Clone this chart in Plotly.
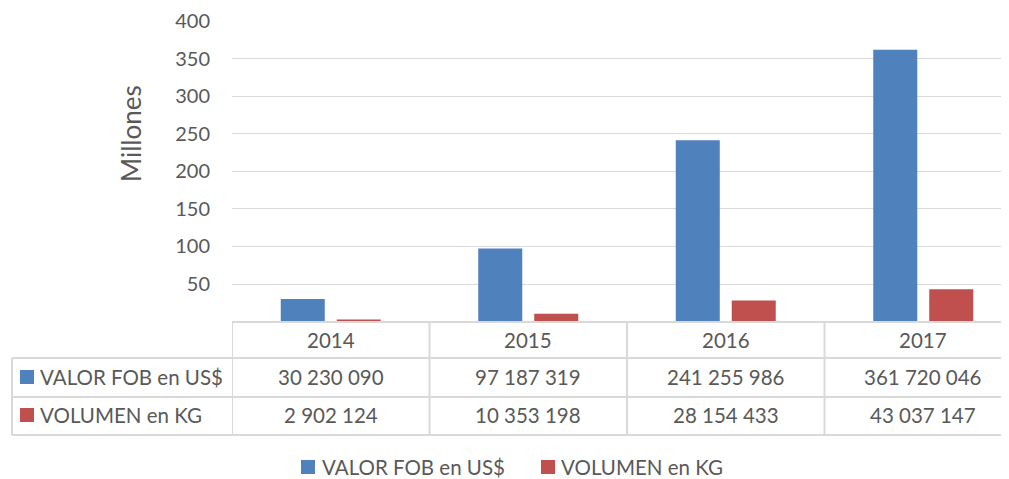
import plotly.graph_objects as go

years = ["2014", "2015", "2016", "2017"]
series_names = ["VALOR FOB en US$", "VOLUMEN en KG"]
valor_fob = [30230090, 97187319, 241255986, 361720046]
volumen_kg = [2902124, 10353198, 28154433, 43037147]
y_ticks = [50, 100, 150, 200, 250, 300, 350, 400]

colors = ["#4F81BD", "#C0504D"]
OFF = 8  # default page body margin
W, H = 1009 - OFF, 479 - OFF
FONT = "Lato"
TXT = "#595959"
GRID = "#D9D9D9"
FS = 20.5
CAT_W = 197.5  # pixels per category in the reference


def px(x):
    return (x - OFF) / W


def py(y):
    return 1 - (y - OFF) / H


fmt = lambda v: f"{v:,}".replace(",", " ")

fig = go.Figure()
for name, vals, c in zip(series_names, [valor_fob, volumen_kg], colors):
    fig.add_trace(go.Bar(x=years, y=[v / 1e6 for v in vals], name=name,
                         marker=dict(color=c, line=dict(width=0))))

x_left = 232
x_right = 1009
y0_pix = 321.6
fig.update_layout(
    width=W, height=H,
    margin=dict(l=0, r=0, t=0, b=0),
    paper_bgcolor="white", plot_bgcolor="white",
    barmode="group", bargap=0.433, bargroupgap=0.214,
    font=dict(family=FONT, color=TXT, size=FS),
    xaxis=dict(domain=[px(x_left), px(x_right)],
               range=[-0.5, -0.5 + (x_right - x_left) / CAT_W], showticklabels=False,
               showgrid=False, zeroline=False, showline=False, fixedrange=True),
    yaxis=dict(domain=[py(y0_pix), py(21)], range=[0, 400], tickvals=y_ticks,
               showgrid=True, gridcolor=GRID, gridwidth=1.3, zeroline=False,
               showline=False, ticks="", ticklen=0, automargin=False,
               ticklabelstandoff=21,
               tickfont=dict(size=20, color=TXT, family=FONT)),
    showlegend=False,
)

# y axis title
fig.add_annotation(text="Millones", x=px(131), y=py(134), xref="paper", yref="paper",
                   xanchor="center", yanchor="middle",
                   textangle=-90, showarrow=False, font=dict(size=26, color=TXT, family=FONT))

# table lines
line = dict(color=GRID, width=2)
row_y = [322, 358, 397, 435]
fig.add_shape(type="line", xref="paper", yref="paper", x0=px(232), x1=px(1008),
              y0=py(322), y1=py(322), line=line)
for yy in row_y[1:]:
    fig.add_shape(type="line", xref="paper", yref="paper", x0=px(12), x1=px(1008),
                  y0=py(yy), y1=py(yy), line=line)
for k in range(len(years)):
    fig.add_shape(type="line", xref="x", yref="paper", x0=k - 0.5, x1=k - 0.5,
                  y0=py(322), y1=py(435), line=line)
fig.add_shape(type="line", xref="paper", yref="paper", x0=px(1007.5), x1=px(1007.5),
              y0=py(322), y1=py(435), line=line)
fig.add_shape(type="line", xref="paper", yref="paper", x0=px(12), x1=px(12),
              y0=py(358), y1=py(435), line=line)

# header years
for i, yr in enumerate(years):
    fig.add_annotation(text=yr, x=i, xref="x", y=py(340), yref="paper",
                       xanchor="center", yanchor="middle",
                       showarrow=False, font=dict(size=FS, color=TXT, family=FONT))
# rows
row_centers = [377, 415]
for r, (name, vals, c) in enumerate(zip(series_names, [valor_fob, volumen_kg], colors)):
    yc = row_centers[r]
    fig.add_shape(type="rect", xref="paper", yref="paper", x0=px(20), x1=px(34),
                  y0=py(yc - 7), y1=py(yc + 7), fillcolor=c, line=dict(width=0))
    fig.add_annotation(text=name, x=px(38), y=py(yc), xref="paper", yref="paper",
                       xanchor="left", yanchor="middle", showarrow=False,
                       font=dict(size=FS, color=TXT, family=FONT))
    for i, v in enumerate(vals):
        fig.add_annotation(text=fmt(v), x=i, xref="x", y=py(yc), yref="paper",
                           xanchor="center", yanchor="middle",
                           showarrow=False, font=dict(size=FS, color=TXT, family=FONT))

# bottom legend
leg_y = 467
leg_items = [(301, 320), (541, 559)]
for (sx, tx), name, c in zip(leg_items, series_names, colors):
    fig.add_shape(type="rect", xref="paper", yref="paper", x0=px(sx), x1=px(sx + 14),
                  y0=py(leg_y - 7), y1=py(leg_y + 7), fillcolor=c, line=dict(width=0))
    fig.add_annotation(text=name, x=px(tx), y=py(leg_y), xref="paper", yref="paper",
                       xanchor="left", yanchor="middle", showarrow=False,
                       font=dict(size=FS, color=TXT, family=FONT))

fig.write_html("out.html")
